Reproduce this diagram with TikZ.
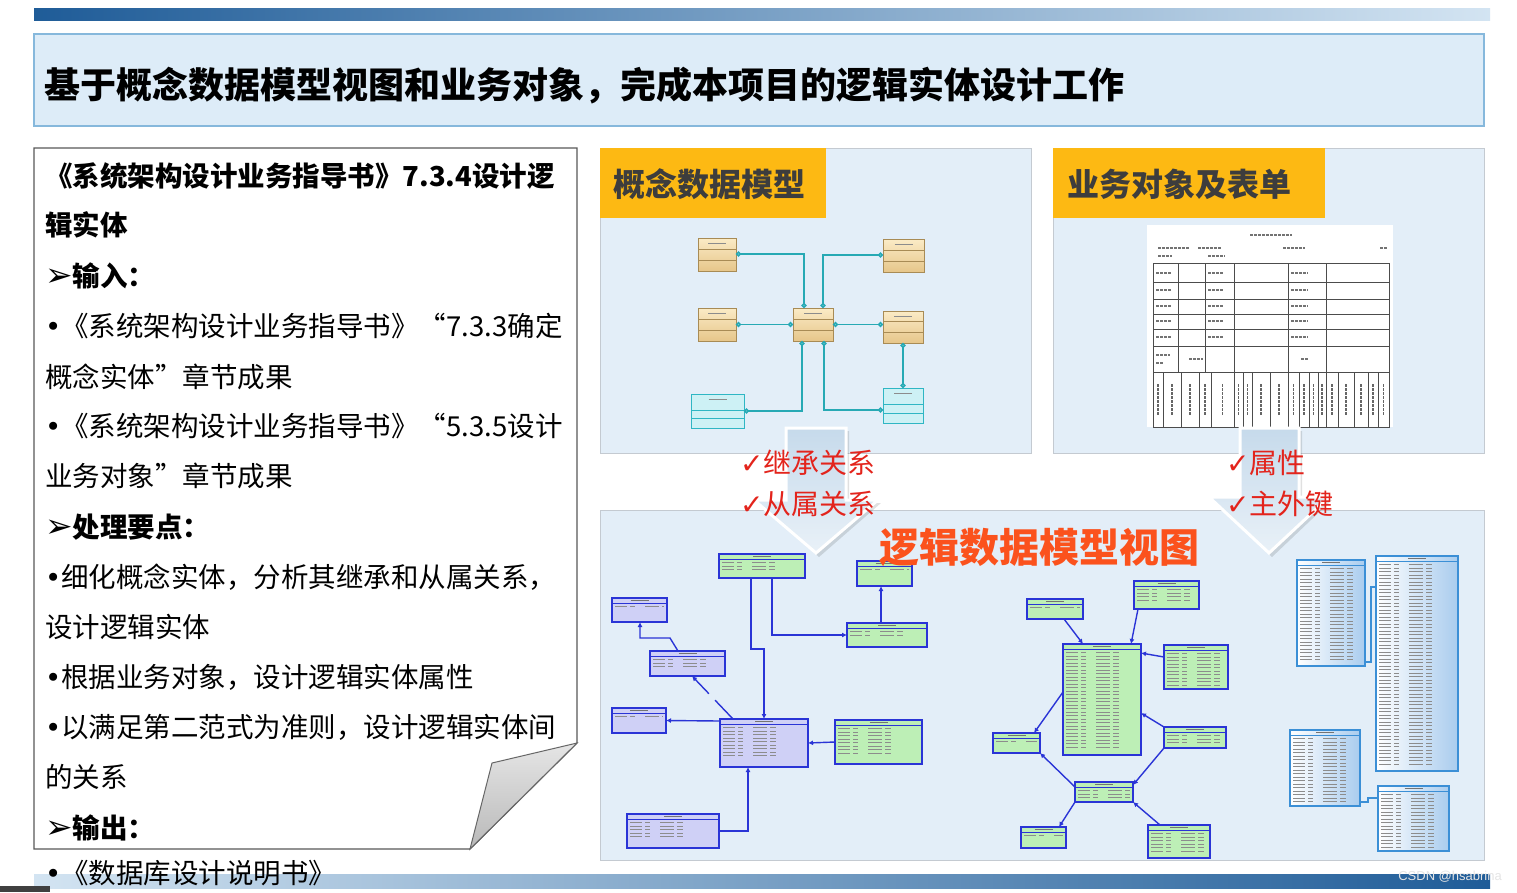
\documentclass[tikz,border=0pt]{standalone}
\usepackage{fontspec}
\setmainfont{Noto Sans CJK SC}
\newfontfamily\dv{DejaVu Sans}
\newfontfamily\lsans{Liberation Sans}
\usetikzlibrary{arrows.meta,calc}

\definecolor{barDark}{HTML}{1F5C98}
\definecolor{barLight}{HTML}{D3E4F2}
\definecolor{titleFill}{HTML}{DDECF8}
\definecolor{titleLine}{HTML}{86B8DC}
\definecolor{panelFill}{HTML}{E3EEF8}
\definecolor{panelLine}{HTML}{C4CAD1}
\definecolor{hdrOrange}{HTML}{FDB913}
\definecolor{hdrText}{HTML}{3D3D3D}
\definecolor{chkRed}{HTML}{E3241C}
\definecolor{ttlOrange}{HTML}{FB521D}
\definecolor{erBlue}{HTML}{2A34D6}
\definecolor{erGreen}{HTML}{BDEFB6}
\definecolor{erLav}{HTML}{CFD0F6}
\definecolor{cmTeal}{HTML}{27A9B4}
\definecolor{entTop}{HTML}{FBEBC6}
\definecolor{entBot}{HTML}{E6C68A}
\definecolor{entLine}{HTML}{A88B55}
\definecolor{cyFill}{HTML}{CDF1F5}
\definecolor{cyLine}{HTML}{2FB6C4}
\definecolor{vLine}{HTML}{3B8FD6}
\definecolor{vRight}{HTML}{A9CCEE}
\definecolor{arrTop}{HTML}{C6DAEB}
\definecolor{arrBot}{HTML}{E9F1F8}

\newcommand\erlines[2]{%
  \draw[#2, line width=0.8pt] ([yshift=-5pt]path picture bounding box.north west) -- ([yshift=-5pt]path picture bounding box.north east);
  \draw[black!55, line width=1pt] ([xshift=-9pt,yshift=-2.5pt]path picture bounding box.north) -- ([xshift=9pt,yshift=-2.5pt]path picture bounding box.north);
  \foreach \i in {1,...,#1}{%
    \draw[txtrow] ([xshift=3pt,yshift={-(5+3.5*\i)*1pt}]path picture bounding box.north west) -- ([xshift=-3pt,yshift={-(5+3.5*\i)*1pt}]path picture bounding box.north east);}%
}
\newcommand\entlines[3]{%
  \draw[#1, line width=0.8pt] ($(path picture bounding box.north west)!#2!(path picture bounding box.south west)$) -- ($(path picture bounding box.north east)!#2!(path picture bounding box.south east)$);
  \draw[#1, line width=0.8pt] ($(path picture bounding box.north west)!#3!(path picture bounding box.south west)$) -- ($(path picture bounding box.north east)!#3!(path picture bounding box.south east)$);
  \draw[black!45, line width=1pt] ([xshift=-9pt,yshift=-5pt]path picture bounding box.north) -- ([xshift=9pt,yshift=-5pt]path picture bounding box.north);
}
\newcommand\tabnode[6]{%
  \pgfmathsetmacro\tw{#5-#3}\pgfmathsetmacro\th{#6-#4}%
  \node[#2, minimum width=\tw pt, minimum height=\th pt, anchor=north west] (#1) at (#3,#4) {};}
\newcommand\bul{{\dv •}}
\newcommand\arr{{\dv\fontsize{33}{33}\selectfont ➢}}

\tikzset{
  txtrow/.style={black!45, line width=0.7pt, dash pattern=on 12pt off 3pt on 5pt off 10pt on 14pt off 3pt on 6pt off 40pt},
  tab/.style={line width=1.1pt, inner sep=0, outer sep=0},
  tabg/.style={tab, draw=erBlue, fill=erGreen, path picture={\erlines{#1}{erBlue}}},
  tabp/.style={tab, draw=erBlue, fill=erLav, path picture={\erlines{#1}{erBlue}}},
  tabv/.style={tab, draw=vLine, left color=white, right color=vRight, path picture={\erlines{#1}{vLine}}},
  ent/.style={draw=entLine, line width=1pt, inner sep=0, outer sep=0, top color=entTop, bottom color=entBot, path picture={\entlines{entLine}{0.34}{0.67}}},
  cyent/.style={draw=cyLine, line width=1pt, inner sep=0, outer sep=0, fill=cyFill, path picture={\entlines{cyLine}{0.47}{0.72}}},
  cmline/.style={cmTeal, line width=1.6pt},
  cmtip/.style={{Circle[length=5pt, fill=white]}-{Circle[length=5pt, fill=white]}},
  erline/.style={erBlue, line width=1.4pt, -{Latex[length=5pt,width=5pt]}},
  vline/.style={vLine, line width=1.2pt},
  lt/.style={anchor=west, inner sep=0, font=\fontsize{27.5}{30}\selectfont},
  ltb/.style={lt, font=\fontsize{27.5}{30}\selectfont\bfseries},
  chk/.style={anchor=west, inner sep=0, text=chkRed, font=\fontsize{28}{30}\selectfont},
  hdr/.style={anchor=west, inner sep=0, text=hdrText, font=\fontsize{32}{34}\selectfont\bfseries},
  bigarr/.style={draw=white, line width=3pt, top color=arrTop, bottom color=arrBot, line join=miter},
  formline/.style={black!70, line width=0.6pt},
  formtxt/.style={black!55, line width=1.2pt, dash pattern=on 3pt off 1pt},
}

\begin{document}
\begin{tikzpicture}[x=1pt,y=-1pt]
\useasboundingbox (0,0) rectangle (1517,892);
\fill[white] (0,0) rectangle (1517,892);

% top and bottom bars
\shade[left color=barDark, right color=barLight] (34,8) rectangle (1490,20);
\shade[left color=barLight, right color=barDark] (34,874) rectangle (1490,888);
\fill[black!75] (0,886) rectangle (50,892);

% title
\draw[titleLine, fill=titleFill, line width=1.2pt] (34,34) rectangle (1484,126);
\node[anchor=west, inner sep=0, font=\fontsize{36}{40}\selectfont\bfseries] (ttl) at (44,86) {基于概念数据模型视图和业务对象，完成本项目的逻辑实体设计工作};

% left document box
\draw[black!65, fill=white, line width=1.3pt] (34,148) -- (577,148) -- (577,743) -- (470,849) -- (34,849) -- cycle;
\shade[top color=gray!20, bottom color=gray!55, draw=black!60, line width=1pt] (577,743) -- (492,763) -- (470,849) -- cycle;

\node[ltb] (l1) at (45,176) {《系统架构设计业务指导书》7.3.4设计逻};
\node[ltb] (l2) at (45,225) {辑实体};
\node[ltb] (l3) at (45,276) {\arr 输入：};
\node[lt] (l4) at (45,326) {\bul《系统架构设计业务指导书》“7.3.3确定};
\node[lt] (l5) at (45,377) {概念实体”章节成果};
\node[lt] (l6) at (45,426) {\bul《系统架构设计业务指导书》“5.3.5设计};
\node[lt] (l7) at (45,476) {业务对象”章节成果};
\node[ltb] (l8) at (45,527) {\arr 处理要点：};
\node[lt] (l9) at (45,577) {\bul 细化概念实体，分析其继承和从属关系，};
\node[lt] (l10) at (45,627) {设计逻辑实体};
\node[lt] (l11) at (45,677) {\bul 根据业务对象，设计逻辑实体属性};
\node[lt] (l12) at (45,727) {\bul 以满足第二范式为准则，设计逻辑实体间};
\node[lt] (l13) at (45,777) {的关系};
\node[ltb] (l14) at (45,828) {\arr 输出：};
\node[lt] (l15) at (45,873) {\bul《数据库设计说明书》};

% panel 1 : conceptual model
\draw[panelLine, fill=panelFill, line width=1pt] (600,148) rectangle (1031,453);
\fill[hdrOrange] (600,148) rectangle (826,218);
\node[hdr] (h1) at (613,184) {概念数据模型};

\tabnode{E1}{ent}{698}{238}{736}{271}
\tabnode{E2}{ent}{883}{239}{924}{272}
\tabnode{E3}{ent}{698}{308}{736}{341}
\tabnode{E4}{ent}{793}{308}{833}{341}
\tabnode{E5}{ent}{883}{311}{923}{343}
\tabnode{E6}{cyent}{691}{394}{744}{428}
\tabnode{E7}{cyent}{883}{388}{923}{423}

\draw[cmline, cmtip] ([yshift=-16pt]E1.north east) -| ([xshift=11pt]E4.north west);
\draw[cmline, cmtip] ([yshift=-16pt]E2.north west) -| ([xshift=-10pt]E4.north east);
\draw[cmline, cmtip] (E3.east) -- (E4.west);
\draw[cmline, cmtip] (E4.east) -- (E4.east -| E5.west);
\draw[cmline, cmtip] ([xshift=9pt]E4.south west) |- (E6.east);
\draw[cmline, cmtip] ([xshift=-9pt]E4.south east) |- ([yshift=-22pt]E7.north west);
\draw[cmline, cmtip] (E5.south) -- (E7.north);

% panel 2 : business objects
\draw[panelLine, fill=panelFill, line width=1pt] (1053,148) rectangle (1484,453);
\fill[hdrOrange] (1053,148) rectangle (1325,218);
\node[hdr] (h2) at (1067,184) {业务对象及表单};

\fill[white] (1147,225) rectangle (1393,427);
\draw[formline] (1153,263) rectangle (1389,427);
\foreach \y in {282,299,314,329,346,372} \draw[formline] (1153,\y) -- (1389,\y);
\foreach \x in {1178,1205,1234,1288,1326} \draw[formline] (\x,263) -- (\x,372);
\foreach \x in {1163,1181,1199,1211,1234,1243,1252,1270,1288,1299,1309,1318,1326,1338,1354,1368,1378} \draw[formline] (\x,372) -- (\x,427);
\draw[formtxt, line width=1.5pt] (1250,235) -- (1292,235);
\draw[formtxt] (1158,248) -- (1190,248) (1198,248) -- (1222,248) (1283,248) -- (1305,248) (1380,248) -- (1388,248) (1158,256) -- (1172,256) (1208,256) -- (1225,256);
\foreach \y in {273,290,306,321,337} {\draw[formtxt] (1156,\y) -- ++(15,0); \draw[formtxt] (1208,\y) -- ++(15,0); \draw[formtxt] (1291,\y) -- ++(17,0);}
\draw[formtxt] (1156,355) -- (1170,355) (1156,363) -- (1163,363) (1189,359) -- (1203,359) (1301,359) -- (1308,359);
\foreach \x in {1158,1172,1190,1205,1222.5,1238.5,1247.5,1261,1279,1293.5,1304,1313.5,1322,1332,1346,1361,1373,1383.5}
  \draw[black!60, line width=1.6pt, dash pattern=on 2.5pt off 1.5pt] (\x,384) -- (\x,416);

% lower panel : logical model
\draw[panelLine, fill=panelFill, line width=1pt] (600,510) rectangle (1484,860);

\tabnode{T1}{tabg=3}{719}{554}{805}{578}
\tabnode{T2}{tabg=1}{857}{561}{912}{586}
\tabnode{T3}{tabp=1}{612}{598}{667}{622}
\tabnode{T4}{tabg=2}{847}{623}{927}{647}
\tabnode{T5}{tabp=3}{650}{651}{725}{676}
\tabnode{T6}{tabp=1}{612}{708}{666}{733}
\tabnode{T7}{tabp=9}{720}{719}{808}{767}
\tabnode{T8}{tabg=8}{835}{720}{922}{764}
\tabnode{T9}{tabp=5}{627}{814}{719}{848}

\draw[erline] ([xshift=32pt]T1.south west) -- ++(0,71) -| ([xshift=44pt]T7.north west);
\draw[erline] ([xshift=53pt]T1.south west) |- (T4.west);
\draw[erline] ([xshift=34pt]T4.north west) -- ([xshift=24pt]T2.south west);
\draw[erline] ([xshift=28pt]T5.north west) -- ++(-8,-13) -| ([xshift=28pt]T3.south west);
\draw[erline, dash pattern=on 26pt off 9pt] ([xshift=13pt]T7.north west) -- ([xshift=42pt]T5.south west);
\draw[erline] ([yshift=-2pt]T7.north west) -- (T6.east);
\draw[erline] (T8.west) -- (T7.east);
\draw[erline] (T9.east) -| ([xshift=28pt]T7.south west);

\tabnode{U1}{tabg=1}{1027}{599}{1083}{619}
\tabnode{U2}{tabg=4}{1134}{581}{1199}{609}
\tabnode{U3}{tabg=28}{1063}{644}{1141}{755}
\tabnode{U4}{tabg=10}{1164}{645}{1228}{689}
\tabnode{U5}{tabg=1}{993}{733}{1040}{753}
\tabnode{U6}{tabg=3}{1164}{727}{1226}{748}
\tabnode{U7}{tabg=3}{1075}{782}{1133}{802}
\tabnode{U8}{tabg=1}{1021}{827}{1066}{848}
\tabnode{U9}{tabg=6}{1148}{825}{1210}{858}

\draw[erline] ([xshift=37pt]U1.south west) -- ([xshift=20pt]U3.north west);
\draw[erline] ([xshift=4pt]U2.south west) -- ([xshift=-10pt]U3.north east);
\draw[erline] ([yshift=-12pt]U4.north west) -- ([yshift=-9pt]U3.north east);
\draw[erline] (U6.north west) -- ([yshift=-69pt]U3.north east);
\draw[erline] ([yshift=-48pt]U3.north west) -- ([xshift=-6pt]U5.north east);
\draw[erline] ([yshift=-5pt]U7.north west) -- (U5.south east);
\draw[erline] (U6.south west) -- ([yshift=-3pt]U7.north east);
\draw[erline] (U7.south west) -- ([xshift=-7pt]U8.north east);
\draw[erline] ([xshift=12pt]U9.north west) -- (U7.south east);

\tabnode{V1}{tabv=27}{1297}{560}{1365}{666}
\tabnode{V2}{tabv=58}{1376}{556}{1458}{771}
\tabnode{V3}{tabv=19}{1290}{730}{1360}{806}
\tabnode{V4}{tabv=16}{1378}{786}{1449}{851}
\draw[vline] ([yshift=4pt]V1.south east) -- ++(6,0) |- ([yshift=-31pt]V2.north west);
\draw[vline] ([yshift=4pt]V3.south east) -- ++(8,0) |- ([yshift=-12pt]V4.north west);

\node[anchor=west, inner sep=0, text=ttlOrange, font=\fontsize{40}{42}\selectfont\bfseries] (lt) at (879,547) {逻辑数据模型视图};

% big arrows
\fill[black, opacity=0.12] (789,431) -- (849,431) -- (849,503) -- (881,503) -- (819,557) -- (757,503) -- (789,503) -- cycle;
\draw[bigarr] (786,428) -- (846,428) -- (846,500) -- (878,500) -- (816,553) -- (754,500) -- (786,500) -- cycle;
\fill[black, opacity=0.12] (1243,431) -- (1302,431) -- (1302,500) -- (1332,500) -- (1272,557) -- (1212,500) -- (1243,500) -- cycle;
\draw[bigarr] (1240,428) -- (1299,428) -- (1299,497) -- (1329,497) -- (1269,553) -- (1209,497) -- (1240,497) -- cycle;

\node[chk] (c1) at (740,463) {{\dv ✓}继承关系};
\node[chk] (c2) at (740,504) {{\dv ✓}从属关系};
\node[chk] (c3) at (1226,463) {{\dv ✓}属性};
\node[chk] (c4) at (1226,504) {{\dv ✓}主外键};

\node[anchor=east, inner sep=0, text=white!80!gray, font=\lsans\fontsize{13}{13}\selectfont] (wm) at (1502,877) {CSDN @hsabrina};
\end{tikzpicture}
\end{document}
